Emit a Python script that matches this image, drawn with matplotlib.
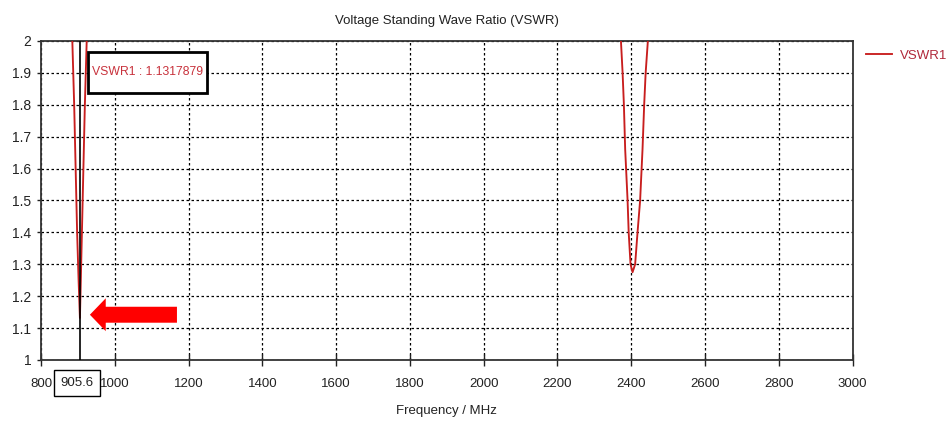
"""VSWR sweep plot with a marker at the lower resonance."""

import matplotlib

matplotlib.use("Agg")
import matplotlib.pyplot as plt
from matplotlib.patches import FancyArrow, Rectangle

# sweep data around the two resonances (MHz, VSWR)
low_freq = [882.0, 885.0, 890.0, 894.0, 898.0, 902.0, 905.6, 908.0, 911.0, 915.0, 919.0, 924.0, 927.0]
low_vswr = [2.15, 2.0, 1.8, 1.6, 1.4, 1.25, 1.1317879, 1.25, 1.4, 1.6, 1.8, 2.0, 2.15]

high_freq = [2368.0, 2372.0, 2376.5, 2380.0, 2383.5, 2390.0, 2393.0, 2398.0, 2403.5,
             2410.5, 2417.0, 2424.0, 2430.5, 2435.0, 2439.0, 2445.0, 2449.0]
high_vswr = [2.1, 2.0, 1.9, 1.8, 1.66, 1.5, 1.4, 1.3, 1.275,
             1.3, 1.4, 1.5, 1.66, 1.8, 1.9, 2.0, 2.1]

marker_freq = 905.6
marker_vswr = 1.1317879

x_ticks = list(range(800, 3001, 200))
y_ticks = [1.0, 1.1, 1.2, 1.3, 1.4, 1.5, 1.6, 1.7, 1.8, 1.9, 2.0]
y_labels = ["1", "1.1", "1.2", "1.3", "1.4", "1.5", "1.6", "1.7", "1.8", "1.9", "2"]

plt.rcParams["font.family"] = ["Liberation Sans", "DejaVu Sans"]
TEXT = "#222222"
RED = "#c81e1e"

fig = plt.figure(figsize=(9.46, 4.26), dpi=100)
ax = fig.add_axes([0.0433, 0.155, 0.858, 0.749])

ax.plot(low_freq, low_vswr, color=RED, linewidth=1.35, label="VSWR1", zorder=3)
ax.plot(high_freq, high_vswr, color=RED, linewidth=1.35, zorder=3)

ax.axvline(marker_freq, color="black", linewidth=1.2, zorder=4)

ax.set_xlim(800, 3000)
ax.set_ylim(1, 2)
ax.set_xticks(x_ticks)
ax.set_xticklabels([str(t) for t in x_ticks], fontsize=9.5)
ax.set_yticks(y_ticks)
ax.set_yticklabels(y_labels, fontsize=10)
ax.tick_params(axis="both", direction="out", length=3, width=1, colors=TEXT)
ax.tick_params(axis="y", pad=4)
ax.tick_params(axis="x", direction="inout", length=8, pad=9)

ax.grid(True, color="black", linestyle=(0, (2, 2)), linewidth=0.9)
for spine in ax.spines.values():
    spine.set_color("#333333")
    spine.set_linewidth(1.3)

ax.set_title("Voltage Standing Wave Ratio (VSWR)", fontsize=9.5, color=TEXT, pad=12)
ax.set_xlabel("Frequency / MHz", fontsize=9.5, color=TEXT, labelpad=11)

# marker readout box
ax.add_patch(
    Rectangle((0.058, 0.837), 0.1465, 0.1285, transform=ax.transAxes,
              facecolor="white", edgecolor="black", linewidth=2, zorder=6)
)
ax.text(
    0.131, 0.901, f"VSWR1 : {marker_vswr:.7f}",
    transform=ax.transAxes, fontsize=8.8, color="#c8323c",
    va="center", ha="center", zorder=7,
)

# marker frequency on the x axis
ax.text(
    marker_freq - 8, -0.072, f"{marker_freq:.1f}",
    transform=ax.get_xaxis_transform(), fontsize=9.5, color=TEXT,
    ha="center", va="center",
    bbox=dict(boxstyle="square,pad=0.5", facecolor="white", edgecolor="black", linewidth=1),
)

# red pointer to the minimum
ax.add_patch(
    FancyArrow(
        marker_freq + 263, marker_vswr + 0.01, -236, 0,
        width=0.05, head_width=0.103, head_length=43,
        length_includes_head=True, color="#ff0000", linewidth=0, zorder=5,
    )
)

ax.legend(
    loc="upper left", bbox_to_anchor=(1.016, 0.972), frameon=False,
    fontsize=9.5, handlelength=2.0, handletextpad=0.6,
    borderpad=0, borderaxespad=0, labelcolor="#b0283a",
)

fig.savefig("out.png", dpi=100)
